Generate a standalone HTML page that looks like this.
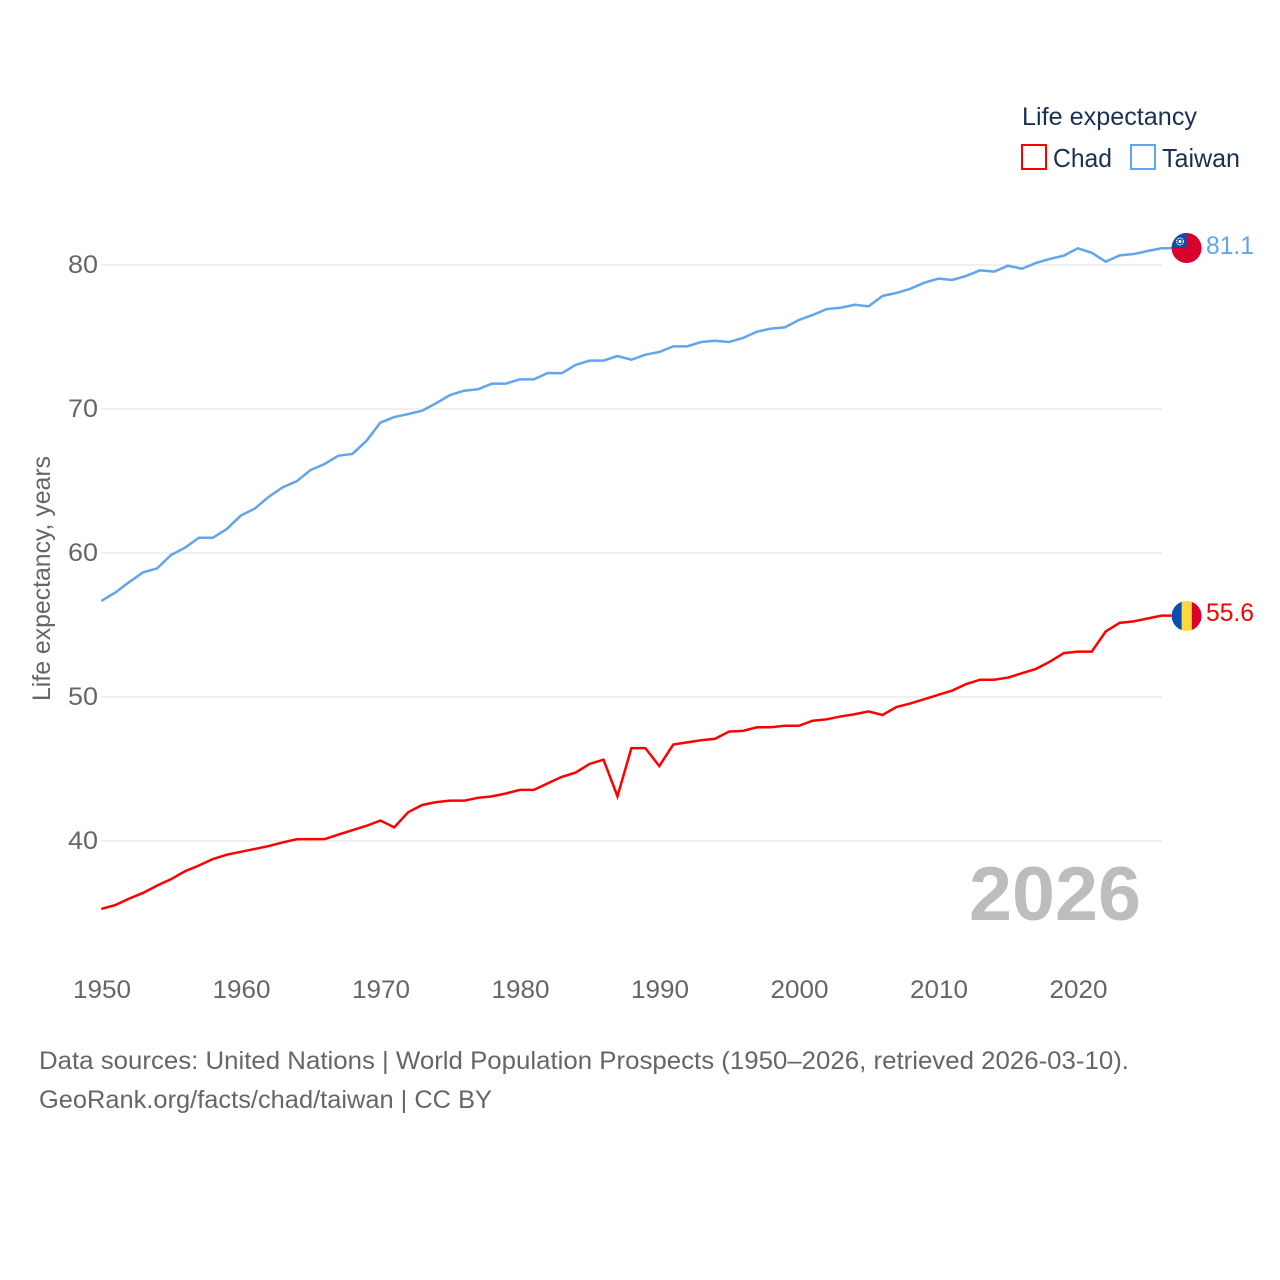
<!DOCTYPE html>
<html lang="en">
<head>
<meta charset="utf-8">
<title>Life expectancy: Chad and Taiwan</title>
<style>
html,body{margin:0;padding:0;background:#fff;}
svg{display:block;font-family:"Liberation Sans",sans-serif;}
</style>
</head>
<body>
<svg id="chart" xmlns="http://www.w3.org/2000/svg" width="1280" height="1280" viewBox="0 0 1280 1280">
  <rect x="0" y="0" width="1280" height="1280" fill="#ffffff"/>
  <g id="grid"></g>
  <g id="yticks"></g>
  <g id="xticks"></g>
  <text transform="translate(50,578.5) rotate(-90)" text-anchor="middle" font-size="25" fill="#666666" textLength="245" lengthAdjust="spacingAndGlyphs">Life expectancy, years</text>
  <text x="969" y="920" font-size="76" font-weight="700" fill="#bdbdbd" textLength="172" lengthAdjust="spacingAndGlyphs">2026</text>
  <g id="series"></g>

  <g id="flag-taiwan">
    <clipPath id="clip-tw"><circle id="tw-clip-circle" cx="1186.6" cy="248" r="15"/></clipPath>
    <g clip-path="url(#clip-tw)">
      <rect x="1170" y="231" width="34" height="34" fill="#d8002a"/>
      <rect x="1170" y="231" width="16.6" height="17" fill="#0a4eb0"/>
      <circle cx="1180" cy="241.5" r="3.4" fill="#0a4eb0" stroke="#ffffff" stroke-width="1.2" stroke-dasharray="1.4 0.8"/>
      <circle cx="1180" cy="241.5" r="1.5" fill="#ffffff"/>
    </g>
  </g>
  <g id="flag-chad">
    <clipPath id="clip-td"><circle id="td-clip-circle" cx="1186.6" cy="616" r="15"/></clipPath>
    <g clip-path="url(#clip-td)">
      <rect x="1170" y="599" width="11.8" height="34" fill="#0a4eb0"/>
      <rect x="1181.8" y="599" width="10" height="34" fill="#ffd83d"/>
      <rect x="1191.8" y="599" width="12" height="34" fill="#d8002a"/>
    </g>
  </g>
  <text id="label-taiwan" x="1206" y="254" font-size="25" fill="#60a5ee" textLength="48" lengthAdjust="spacingAndGlyphs"></text>
  <text id="label-chad" x="1206" y="621" font-size="25" fill="#ff0000" textLength="48" lengthAdjust="spacingAndGlyphs"></text>

  <g>
    <text x="1022" y="125" font-size="25" fill="#1a3152" textLength="175" lengthAdjust="spacingAndGlyphs">Life expectancy</text>
    <g>
      <rect x="1022" y="145" width="24" height="24" fill="#ffffff" stroke="#ff0000" stroke-width="2"/>
      <text x="1053" y="167" font-size="26" fill="#1a3152" textLength="59" lengthAdjust="spacingAndGlyphs">Chad</text>
    </g>
    <g>
      <rect x="1131" y="145" width="24" height="24" fill="#ffffff" stroke="#60a5ee" stroke-width="2"/>
      <text x="1162" y="167" font-size="26" fill="#1a3152" textLength="78" lengthAdjust="spacingAndGlyphs">Taiwan</text>
    </g>
  </g>

  <text x="39" y="1069" font-size="25" fill="#666666" textLength="1090" lengthAdjust="spacingAndGlyphs">Data sources: United Nations | World Population Prospects (1950–2026, retrieved 2026-03-10).</text>
  <text x="39" y="1108" font-size="25" fill="#666666" textLength="453" lengthAdjust="spacingAndGlyphs">GeoRank.org/facts/chad/taiwan | CC BY</text>
</svg>
<script>
const firstYear = 1950;
const chadValues = [35.28,35.55,36,36.4,36.9,37.35,37.9,38.3,38.75,39.05,39.25,39.45,39.65,39.9,40.12,40.13,40.13,40.45,40.75,41.05,41.42,40.95,42,42.5,42.7,42.8,42.8,43,43.1,43.3,43.55,43.55,44,44.45,44.75,45.35,45.65,43.1,46.45,46.45,45.2,46.7,46.85,47,47.1,47.6,47.65,47.9,47.9,48,48,48.35,48.45,48.65,48.8,49,48.75,49.3,49.55,49.85,50.15,50.45,50.9,51.2,51.2,51.35,51.65,51.95,52.45,53.05,53.15,53.15,54.55,55.15,55.25,55.45,55.65];
const taiwanValues = [56.67,57.25,57.98,58.66,58.93,59.86,60.37,61.06,61.06,61.67,62.6,63.08,63.9,64.56,64.98,65.76,66.18,66.76,66.88,67.78,69.05,69.44,69.65,69.88,70.4,70.97,71.27,71.37,71.76,71.76,72.06,72.06,72.5,72.48,73.06,73.36,73.36,73.68,73.42,73.77,73.96,74.35,74.35,74.65,74.74,74.65,74.93,75.37,75.58,75.67,76.18,76.53,76.94,77.03,77.24,77.13,77.85,78.06,78.35,78.77,79.05,78.96,79.24,79.63,79.54,79.95,79.74,80.14,80.42,80.65,81.16,80.85,80.23,80.67,80.76,80.97,81.16];
const yTickValues = [40,50,60,70,80];
const xTickValues = [1950,1960,1970,1980,1990,2000,2010,2020];
const chadLabel = "55.6";
const taiwanLabel = "81.1";

const SVG_NS = "http://www.w3.org/2000/svg";
function xScale(year){ return 101.3 + (year - 1950) * 13.95; }
function yScale(value){ return 841 - (value - 40) * 14.4; }

const gridGroup = document.getElementById("grid");
const yTickGroup = document.getElementById("yticks");
const xTickGroup = document.getElementById("xticks");
const seriesGroup = document.getElementById("series");

yTickValues.forEach(function(v){
  const line = document.createElementNS(SVG_NS, "line");
  
  
  line.setAttribute("x1", 101);
  line.setAttribute("x2", 1162);
  line.setAttribute("y1", yScale(v));
  line.setAttribute("y2", yScale(v));
  line.setAttribute("stroke", "#ececec");
  line.setAttribute("stroke-width", 1.5);
  gridGroup.appendChild(line);

  const t = document.createElementNS(SVG_NS, "text");
  
  
  t.setAttribute("x", 68);
  t.setAttribute("y", yScale(v) + 8);
  t.setAttribute("font-size", 25);
  t.setAttribute("fill", "#666666");
  t.setAttribute("textLength", 30);
  t.setAttribute("lengthAdjust", "spacingAndGlyphs");
  t.textContent = String(v);
  yTickGroup.appendChild(t);
});

xTickValues.forEach(function(y){
  const t = document.createElementNS(SVG_NS, "text");
  
  
  t.setAttribute("x", xScale(y) + 0.7);
  t.setAttribute("y", 998);
  t.setAttribute("font-size", 25);
  t.setAttribute("fill", "#666666");
  t.setAttribute("text-anchor", "middle");
  t.setAttribute("textLength", 58);
  t.setAttribute("lengthAdjust", "spacingAndGlyphs");
  t.textContent = String(y);
  xTickGroup.appendChild(t);
});

function linePoints(values){
  const pts = values.map(function(v, i){
    return xScale(firstYear + i).toFixed(2) + "," + yScale(v).toFixed(2);
  });
  const last = values[values.length - 1];
  const lastYear = firstYear + values.length - 1;
  pts.push((xScale(lastYear) + 10).toFixed(2) + "," + yScale(last).toFixed(2));
  return pts.join(" ");
}

const chadLine = document.createElementNS(SVG_NS, "polyline");


chadLine.setAttribute("points", linePoints(chadValues));
chadLine.setAttribute("fill", "none");
chadLine.setAttribute("stroke", "#ff0000");
chadLine.setAttribute("stroke-width", 2.5);
chadLine.setAttribute("stroke-linejoin", "miter");
seriesGroup.appendChild(chadLine);

const taiwanLine = document.createElementNS(SVG_NS, "polyline");


taiwanLine.setAttribute("points", linePoints(taiwanValues));
taiwanLine.setAttribute("fill", "none");
taiwanLine.setAttribute("stroke", "#60a5ee");
taiwanLine.setAttribute("stroke-width", 2.5);
taiwanLine.setAttribute("stroke-linejoin", "miter");
seriesGroup.appendChild(taiwanLine);

document.getElementById("label-chad").textContent = chadLabel;
document.getElementById("label-taiwan").textContent = taiwanLabel;

function placeEnd(flagId, labelId, value, baseY){
  const dy = yScale(value) - baseY;
  document.getElementById(flagId).setAttribute("transform", "translate(0," + dy.toFixed(2) + ")");
  const label = document.getElementById(labelId);
  label.setAttribute("y", (yScale(value) + (labelId === "label-chad" ? 5.3 : 5.7)).toFixed(2));
}
placeEnd("flag-chad", "label-chad", chadValues[chadValues.length - 1], 615.7);
placeEnd("flag-taiwan", "label-taiwan", taiwanValues[taiwanValues.length - 1], 248.3);
</script>
</body>
</html>
